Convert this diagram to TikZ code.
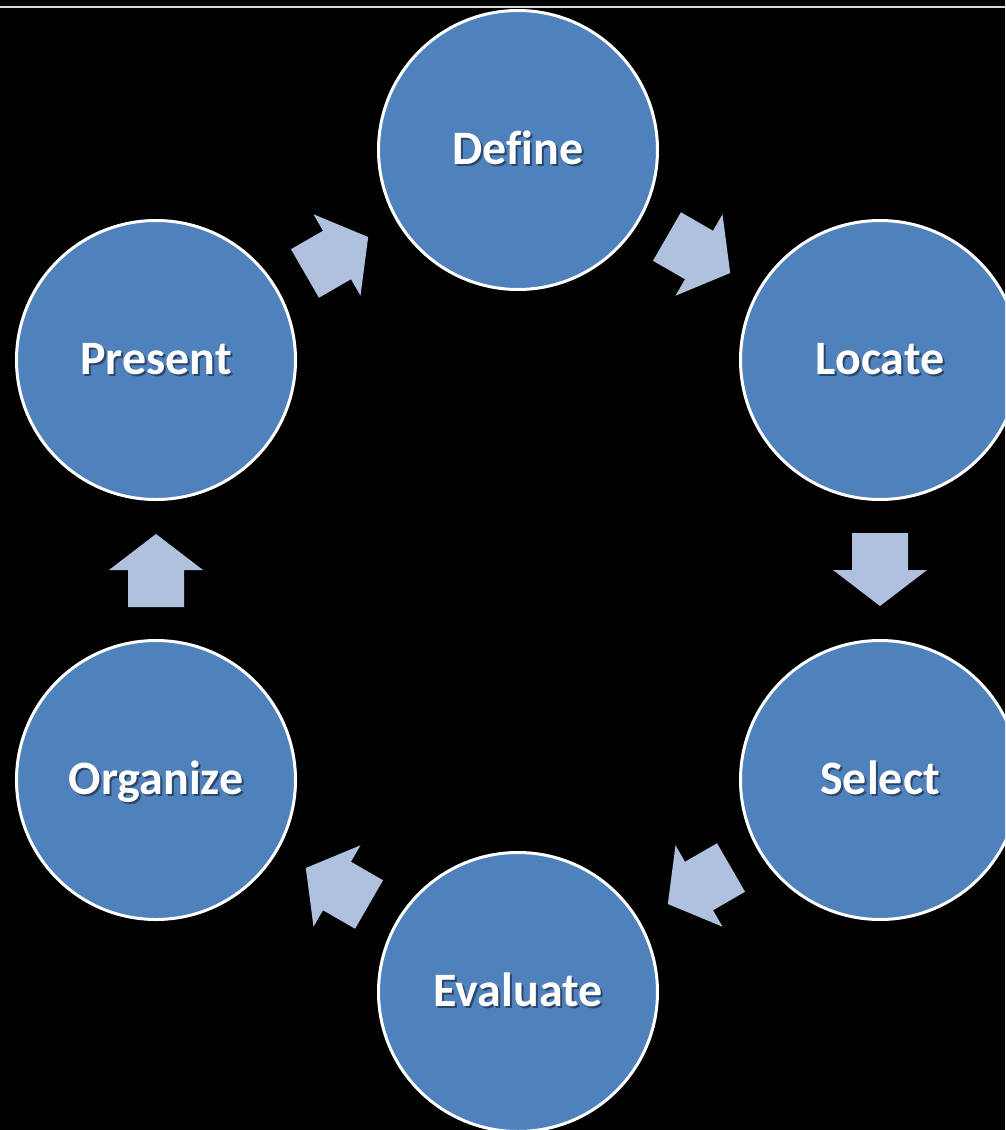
\documentclass[tikz,border=0pt]{standalone}
\usepackage{fontspec}
\setmainfont{Carlito}[Ligatures=NoCommon]
\usetikzlibrary{calc}
\definecolor{circfill}{HTML}{4F81BD}
\definecolor{arrfill}{HTML}{B0C1DE}
\definecolor{topline}{HTML}{D8D8D8}
\tikzset{
  stage/.style={circle, draw=white, line width=3pt, fill=circfill, minimum size=279pt, inner sep=0pt},
  lbl/.style={text=white, font=\fontsize{48}{56}\selectfont\bfseries, anchor=base, inner sep=0pt},
  lblshadow/.style={text=black, text opacity=0.45, font=\fontsize{48}{56}\selectfont\bfseries, anchor=base, inner sep=0pt},
  blockarrow/.pic={\fill[arrfill] (-37,-28) -- (0,-28) -- (0,-47) -- (36,0) -- (0,47) -- (0,28) -- (-37,28) -- cycle;}
}
\newcommand{\stagelabel}[2]{%
  \node[lblshadow] at ($(#1)+(2,16)$) {#2};
  \node[lbl] (#1-text) at ($(#1)+(0,14)$) {#2};
}
\begin{document}
\begin{tikzpicture}[x=1pt,y=-1pt]
\fill[black] (0,0) rectangle (1005,1130);
\useasboundingbox (0,0) rectangle (1005,1130);
\draw[topline, line width=2pt] (0,7) -- (1005,7);
\begin{scope}
\clip (0,0) rectangle (1005,1130);
\node[stage] (define) at (518,150) {};
\node[stage] (locate) at (880,360) {};
\node[stage] (select) at (880,780) {};
\node[stage] (evaluate) at (518,992) {};
\node[stage] (organize) at (156,780) {};
\node[stage] (present) at (156,360) {};
\end{scope}
\stagelabel{define}{Def\kern0pt ine}
\stagelabel{locate}{Locate}
\stagelabel{select}{Select}
\stagelabel{evaluate}{Evaluate}
\stagelabel{organize}{Organize}
\stagelabel{present}{Present}
\path ($(present)!0.5!(define)$) pic[rotate=30] {blockarrow};
\path ($(define)!0.5!(locate)$) pic[rotate=-30] {blockarrow};
\path ($(locate)!0.5!(select)$) pic[rotate=-90] {blockarrow};
\path ($(select)!0.5!(evaluate)$) pic[rotate=-150] {blockarrow};
\path ($(evaluate)!0.5!(organize)$) pic[rotate=150] {blockarrow};
\path ($(organize)!0.5!(present)$) pic[rotate=90] {blockarrow};
\end{tikzpicture}
\end{document}
